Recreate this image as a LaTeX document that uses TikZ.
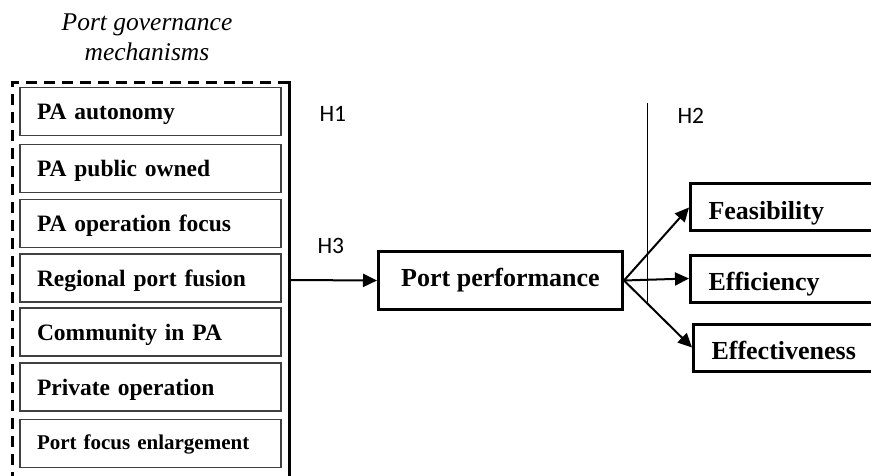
\documentclass[tikz,border=0pt]{standalone}
\usepackage{fontspec}
\setmainfont{Liberation Serif}
\newfontfamily\hlabelfont{Carlito}
\usetikzlibrary{arrows.meta}

\tikzset{
  mechbox/.style={draw=black!75,line width=1.2pt,minimum height=48pt,text width=227pt,
    text height=18pt,text depth=1pt,
    inner xsep=17pt,inner ysep=0pt,align=left,font=\fontsize{23.5}{25}\selectfont\bfseries},
  perfbox/.style={draw,line width=3pt,minimum height=47pt,text width=175pt,
    text height=25pt,text depth=1pt,
    inner xsep=18pt,inner ysep=0pt,align=left,anchor=west,font=\fontsize{26}{28}\selectfont\bfseries},
  hlabel/.style={font=\hlabelfont\fontsize{23.5}{25}\selectfont,anchor=west},
  link/.style={line width=2pt,-{Triangle[length=14pt,width=13pt]}}
}

\begin{document}
\begin{tikzpicture}[x=1pt,y=-1pt]
  \clip (0,0) rectangle (871,476);
  \useasboundingbox (0,0) rectangle (871,476);

  % title
  \node[align=center,font=\fontsize{25.5}{29.5}\selectfont\itshape] (title) at (147,37.5)
    {Port governance\\mechanisms};

  % frame round the mechanisms
  \draw[line width=3pt,dash pattern=on 11pt off 7pt] (289,83) -- (12,83) -- (12,480);
  \draw[line width=3pt] (289,81.5) -- (289,480);
  \coordinate (frameout) at (289,280);

  % mechanisms
  \node[mechbox] (auto) at (150.5,111.5) {PA autonomy};
  \node[mechbox] (public) at (150.5,168.5) {PA public owned};
  \node[mechbox] (opfocus) at (150.5,223.5) {PA operation focus};
  \node[mechbox] (fusion) at (150.5,278) {Regional port fusion};
  \node[mechbox] (community) at (150.5,332) {Community in PA};
  \node[mechbox] (private) at (150.5,387) {Private operation};
  \node[mechbox,text height=13pt,font=\fontsize{21}{23}\selectfont\bfseries] (enlarge) at (150.5,443.5) {Port focus enlargement};

  % performance
  \node[draw,line width=3pt,minimum width=244pt,minimum height=58pt,
    font=\fontsize{26}{28}\selectfont\bfseries] (perf) at (500.5,280.5) {Port performance};

  \node[perfbox] (feas) at (689,207.5) {Feasibility};
  \node[perfbox] (effic) at (689,278.5) {Efficiency};
  \node[perfbox] (effect) at (692,347.5) {Effectiveness};

  % hypotheses
  \node[hlabel] (h1) at (316,114) {H1};
  \node[hlabel] (h3) at (314,246) {H3};
  \node[hlabel] (h2) at (674,116) {H2};
  \draw[line width=0.9pt] (647,103) -- (647,302);

  \draw[link] (frameout) -- (perf.west);
  \draw[link] (perf.east) -- (feas.west);
  \draw[link] (perf.east) -- (effic.west);
  \draw[link] (perf.east) -- (effect.west);
\end{tikzpicture}
\end{document}
